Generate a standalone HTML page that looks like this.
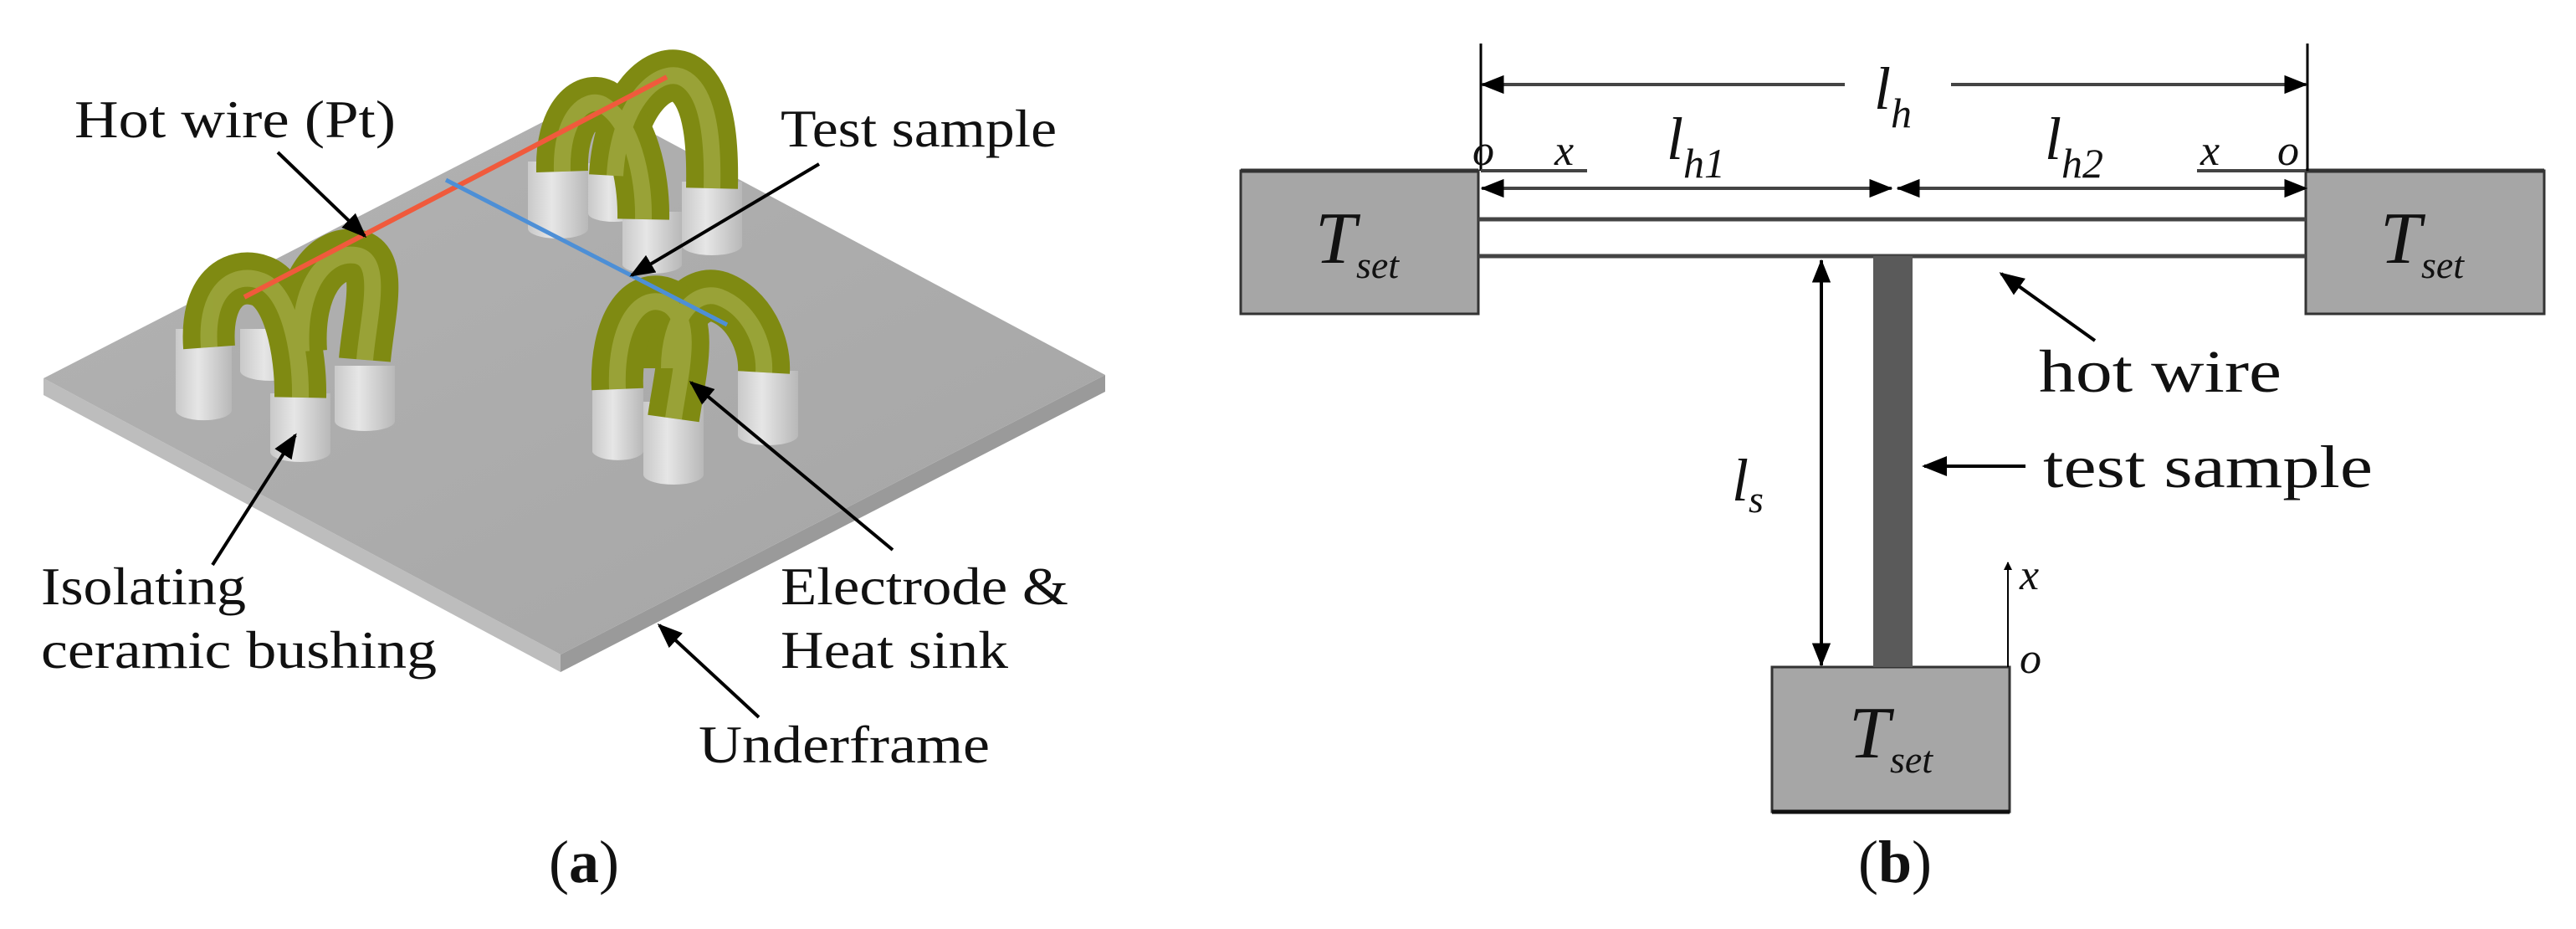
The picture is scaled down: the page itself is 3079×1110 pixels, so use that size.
<!DOCTYPE html>
<html><head><meta charset="utf-8"><style>
html,body{margin:0;padding:0;background:#fff;}
svg{display:block;}
text{font-family:"Liberation Serif",serif;fill:#111;}
</style></head><body>
<svg width="3079" height="1110" viewBox="0 0 3079 1110" xmlns="http://www.w3.org/2000/svg">
<defs>
<marker id="ah" viewBox="0 0 10 10" refX="9" refY="5" markerWidth="10" markerHeight="10" markerUnits="userSpaceOnUse" orient="auto"><path d="M0,0 L10,5 L0,10 z" fill="#000"/></marker>
<marker id="ahb" viewBox="0 0 10 10" refX="9.5" refY="5" markerWidth="28" markerHeight="28" markerUnits="userSpaceOnUse" orient="auto-start-reverse"><path d="M0,1 L10,5 L0,9 z" fill="#000"/></marker>
<marker id="aha" viewBox="0 0 10 10" refX="9" refY="5" markerWidth="30" markerHeight="30" markerUnits="userSpaceOnUse" orient="auto"><path d="M0,1 L10,5 L0,9 z" fill="#000"/></marker>
<linearGradient id="cyl" x1="0" x2="1" y1="0" y2="0"><stop offset="0" stop-color="#c9c9c9"/><stop offset="0.4" stop-color="#e6e6e6"/><stop offset="1" stop-color="#b8b8b8"/></linearGradient>
<linearGradient id="plate" x1="0" x2="1" y1="0" y2="1"><stop offset="0" stop-color="#b3b3b3"/><stop offset="1" stop-color="#a5a5a5"/></linearGradient>
</defs>

<polygon points="52,452 670,782 670,803 52,472" fill="#bdbdbd"/>
<polygon points="670,782 1321,448 1321,468 670,803" fill="#9a9a9a"/>
<polygon points="52,452 703,118 1321,448 670,782" fill="url(#plate)"/>

<g fill="url(#cyl)">
<path d="M287,393 h72 v50 a36,12 0 0 1 -72,0 z"/>
<path d="M210,393 h67 v97 a33,12 0 0 1 -67,0 z"/>
<path d="M400,437 h72 v66 a36,12 0 0 1 -72,0 z"/>
<path d="M323,470 h72 v70 a36,12 0 0 1 -72,0 z"/>
<path d="M703,195 h62 v60 a31,10 0 0 1 -62,0 z"/>
<path d="M631,193 h72 v80 a36,12 0 0 1 -72,0 z"/>
<path d="M815,217 h72 v76 a36,12 0 0 1 -72,0 z"/>
<path d="M744,253 h71 v64 a36,12 0 0 1 -71,0 z"/>
<path d="M882,443 h72 v77 a36,12 0 0 1 -72,0 z"/>
<path d="M708,453 h61 v87 a31,12 0 0 1 -61,0 z"/>
<path d="M769,480 h72 v87 a36,12 0 0 1 -72,0 z"/>
</g>

<g fill="none" stroke-linecap="butt">
<g stroke="#7f8a12" stroke-width="62">
<path d="M360,420 C355,340 390,300 425,305 C460,310 440,380 436,430"/>
<path d="M250,415 C245,345 280,325 310,335 C345,345 360,420 359,475"/>
<path d="M735,210 C740,120 790,75 820,95 C850,115 852,180 851,225"/>
<path d="M672,205 C670,140 700,115 720,125 C755,145 770,210 769,262"/>
<path d="M800,440 C800,380 830,345 860,355 C895,368 915,410 913,445"/>
<path d="M738,465 C735,390 765,345 800,365 C830,385 812,450 805,500"/>
</g>
<g stroke="#c9d07e" stroke-width="20" opacity="0.35">
<path d="M360,420 C355,340 390,300 425,305 C460,310 440,380 436,430"/>
<path d="M250,415 C245,345 280,325 310,335 C345,345 360,420 359,475"/>
<path d="M735,210 C740,120 790,75 820,95 C850,115 852,180 851,225"/>
<path d="M672,205 C670,140 700,115 720,125 C755,145 770,210 769,262"/>
<path d="M800,440 C800,380 830,345 860,355 C895,368 915,410 913,445"/>
<path d="M738,465 C735,390 765,345 800,365 C830,385 812,450 805,500"/>
</g>
</g>

<line x1="292" y1="355" x2="797" y2="92" stroke="#f05a3c" stroke-width="6"/>
<line x1="533" y1="215" x2="869" y2="388" stroke="#4d8fd6" stroke-width="5"/>

<g stroke="#000" stroke-width="4" fill="none">
<line x1="332" y1="182" x2="436" y2="282" marker-end="url(#aha)"/>
<line x1="979" y1="196" x2="755" y2="329" marker-end="url(#aha)"/>
<line x1="254" y1="675" x2="353" y2="520" marker-end="url(#aha)"/>
<line x1="1067" y1="657" x2="826" y2="457" marker-end="url(#aha)"/>
<line x1="907" y1="857" x2="788" y2="747" marker-end="url(#aha)"/>
</g>

<g font-size="64">
<text x="89" y="164" textLength="384" lengthAdjust="spacingAndGlyphs">Hot wire (Pt)</text>
<text x="933" y="175" textLength="330" lengthAdjust="spacingAndGlyphs">Test sample</text>
<text x="49" y="722" textLength="245" lengthAdjust="spacingAndGlyphs">Isolating</text>
<text x="49" y="798" textLength="473" lengthAdjust="spacingAndGlyphs">ceramic bushing</text>
<text x="933" y="722" textLength="344" lengthAdjust="spacingAndGlyphs">Electrode &amp;</text>
<text x="933" y="798" textLength="272" lengthAdjust="spacingAndGlyphs">Heat sink</text>
<text x="835" y="911" textLength="348" lengthAdjust="spacingAndGlyphs">Underframe</text>
</g>
<text x="698" y="1054" font-size="72" text-anchor="middle">(<tspan font-weight="bold">a</tspan>)</text>

<g fill="#a6a6a6" stroke="#333" stroke-width="3">
<rect x="1483" y="204" width="284" height="171"/>
<rect x="2756" y="204" width="285" height="171"/>
<rect x="2118" y="797" width="284" height="173"/>
</g>
<line x1="1483" y1="204" x2="1767" y2="204" stroke="#333" stroke-width="5"/>
<line x1="2756" y1="204" x2="3041" y2="204" stroke="#333" stroke-width="5"/>
<line x1="2118" y1="970" x2="2402" y2="970" stroke="#111" stroke-width="5"/>
<g stroke="#444" stroke-width="5">
<line x1="1767" y1="262" x2="2756" y2="262"/>
<line x1="1767" y1="306" x2="2756" y2="306"/>
</g>
<rect x="2239" y="306" width="47" height="491" fill="#5a5a5a"/>
<g stroke="#000" stroke-width="3">
<line x1="1770" y1="52" x2="1770" y2="204"/>
<line x1="2758" y1="52" x2="2758" y2="204"/>
</g>
<g stroke="#444" stroke-width="4" fill="none">
<line x1="2205" y1="101" x2="1771" y2="101" marker-end="url(#ahb)"/>
<line x1="2332" y1="101" x2="2757" y2="101" marker-end="url(#ahb)"/>
<line x1="1771" y1="225" x2="2261" y2="225" marker-start="url(#ahb)" marker-end="url(#ahb)"/>
<line x1="2268" y1="225" x2="2757" y2="225" marker-start="url(#ahb)" marker-end="url(#ahb)"/>
<line x1="1770" y1="204" x2="1897" y2="204"/>
<line x1="2626" y1="204" x2="2756" y2="204"/>
</g>
<g stroke="#000" stroke-width="4" fill="none">
<line x1="2177" y1="311" x2="2177" y2="795" marker-start="url(#ahb)" marker-end="url(#ahb)"/>
<line x1="2504" y1="407" x2="2392" y2="327" marker-end="url(#aha)"/>
<line x1="2421" y1="557" x2="2300" y2="557" marker-end="url(#aha)"/>
<line x1="2400" y1="797" x2="2400" y2="672" stroke-width="2" marker-end="url(#ah)"/>
</g>

<g font-style="italic">
<text x="2240" y="130" font-size="72">l<tspan font-size="50" dy="22">h</tspan></text>
<text x="1760" y="197" font-size="52">o</text>
<text x="1858" y="197" font-size="52">x</text>
<text x="1992" y="190" font-size="72">l<tspan font-size="50" dy="22">h1</tspan></text>
<text x="2444" y="190" font-size="72">l<tspan font-size="50" dy="22">h2</tspan></text>
<text x="2630" y="197" font-size="52">x</text>
<text x="2722" y="197" font-size="52">o</text>
<text x="2070" y="598" font-size="72">l<tspan font-size="46" dy="14">s</tspan></text>
<text x="2414" y="704" font-size="52">x</text>
<text x="2414" y="804" font-size="52">o</text>
<text x="1572" y="314" font-size="88">T<tspan font-size="46" dy="18">set</tspan></text>
<text x="2845" y="314" font-size="88">T<tspan font-size="46" dy="18">set</tspan></text>
<text x="2210" y="905" font-size="88">T<tspan font-size="46" dy="18">set</tspan></text>
</g>
<g font-size="72">
<text x="2437" y="468" textLength="290" lengthAdjust="spacingAndGlyphs">hot wire</text>
<text x="2442" y="582" textLength="394" lengthAdjust="spacingAndGlyphs">test sample</text>
</g>
<text x="2265" y="1054" font-size="72" text-anchor="middle">(<tspan font-weight="bold">b</tspan>)</text>
</svg>
</body></html>
